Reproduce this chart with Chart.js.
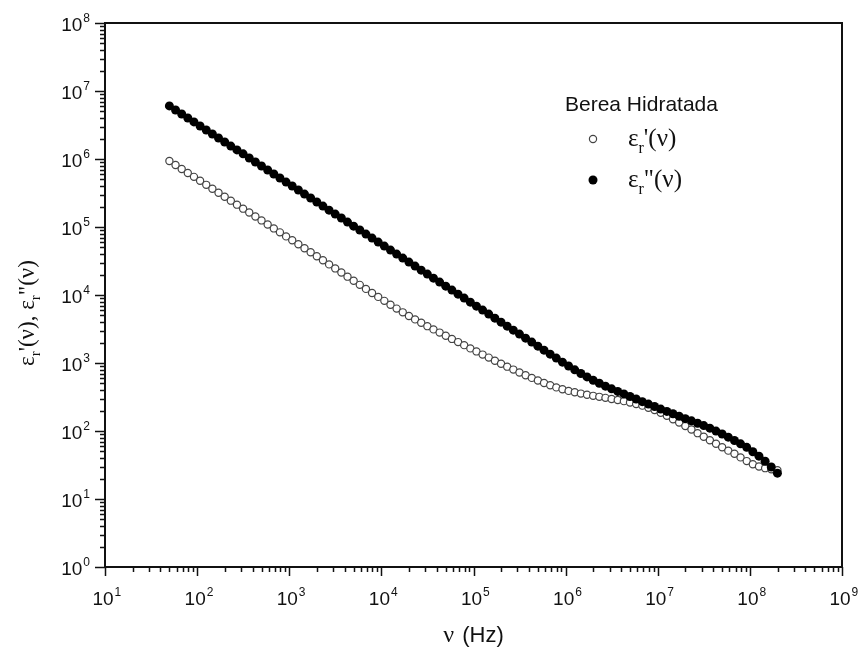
<!DOCTYPE html>
<html>
<head>
<meta charset="utf-8">
<script src="https://cdn.jsdelivr.net/npm/chart.js@4.4.1/dist/chart.umd.min.js"></script>
<style>
  html, body { margin: 0; padding: 0; background: #fff; }
  #wrap { width: 859px; height: 656px; }
</style>
</head>
<body>
<div id="wrap"><canvas id="chart" width="859" height="656"></canvas></div>
<script>
// frequency grid (Hz), 15 points per decade from 50 Hz to 200 MHz
const freqHz = [
  50, 58.3, 68.0, 79.2, 92.4, 107.7, 125.6, 146.4, 170.7, 199.1, 232.1, 270.6, 315.5, 367.8, 428.9,
  500, 583, 680, 792, 924, 1077, 1256, 1464, 1707, 1991, 2321, 2706, 3155, 3678, 4289,
  5000, 5830, 6800, 7920, 9240, 10770, 12560, 14640, 17070, 19910, 23210, 27060, 31550, 36780, 42890,
  5e4, 5.83e4, 6.8e4, 7.92e4, 9.24e4, 1.077e5, 1.256e5, 1.464e5, 1.707e5, 1.991e5, 2.321e5, 2.706e5, 3.155e5, 3.678e5, 4.289e5,
  5e5, 5.83e5, 6.8e5, 7.92e5, 9.24e5, 1.077e6, 1.256e6, 1.464e6, 1.707e6, 1.991e6, 2.321e6, 2.706e6, 3.155e6, 3.678e6, 4.289e6,
  5e6, 5.83e6, 6.8e6, 7.92e6, 9.24e6, 1.077e7, 1.256e7, 1.464e7, 1.707e7, 1.991e7, 2.321e7, 2.706e7, 3.155e7, 3.678e7, 4.289e7,
  5e7, 5.83e7, 6.8e7, 7.92e7, 9.24e7, 1.077e8, 1.256e8, 1.464e8, 1.707e8, 1.991e8
];

// eps_r'(nu), open circles
const epsReal = [
  933000, 817000, 713000, 624000, 546000, 478000, 417000, 365000, 319000, 279000, 244000, 213000, 186000, 163000, 143000,
  125000, 109000, 95300, 83400, 72800, 63700, 55700, 48600, 42600, 37200, 32400, 28200, 24600, 21400, 18600,
  16200, 14100, 12300, 10700, 9380, 8200, 7190, 6310, 5560, 4920, 4380, 3900, 3480, 3120, 2800,
  2510, 2260, 2030, 1830, 1640, 1480, 1330, 1200, 1080, 977, 883, 800, 726, 662, 604,
  553, 508, 470, 438, 411, 389, 371, 355, 341, 329, 318, 307, 296, 286, 275,
  263, 250, 236, 220, 204, 185, 167, 149, 133, 118, 105, 92.9, 82.4, 73.1, 64.9,
  57.7, 51.4, 46.2, 40.9, 36.1, 32.5, 30.1, 28.4, 27.4, 26.5
];

// eps_r''(nu), filled circles
const epsImag = [
  6030000, 5260000, 4590000, 4010000, 3510000, 3060000, 2670000, 2330000, 2040000, 1780000, 1550000, 1360000, 1190000, 1035000, 904000,
  789000, 689000, 601000, 525000, 458000, 401000, 350000, 305000, 267000, 233000, 203000, 177000, 155000, 135500, 118000,
  103000, 90200, 78700, 68700, 60000, 52400, 45800, 40000, 34900, 30500, 26600, 23200, 20300, 17700, 15500,
  13500, 11800, 10300, 9000, 7850, 6860, 6000, 5240, 4570, 3990, 3480, 3040, 2660, 2320, 2030,
  1770, 1545, 1350, 1180, 1030, 902, 793, 701, 624, 558, 504, 457, 417, 382, 351,
  322, 296, 270, 249, 229, 210, 194, 179, 165, 152, 141, 130, 120, 110, 99.8,
  90.2, 81.1, 72.6, 64.7, 57.5, 49.5, 42.7, 35.9, 29.5, 24.0
];

const xTickExps = [1, 2, 3, 4, 5, 6, 7, 8, 9];
const yTickExps = [0, 1, 2, 3, 4, 5, 6, 7, 8];
const minorSteps = [2, 3, 4, 5, 6, 7, 8, 9];
const legendTitle = 'Berea Hidratada';

const SANS = '"Liberation Sans", Arial, sans-serif';
const SERIF = '"Liberation Serif", "Times New Roman", serif';
const INK = '#111';

function logTicks(exps) {
  const ticks = [];
  exps.forEach((e, i) => {
    ticks.push({ value: Math.pow(10, e), major: true, exp: e });
    if (i < exps.length - 1) {
      minorSteps.forEach((m) => ticks.push({ value: m * Math.pow(10, e), major: false }));
    }
  });
  return ticks;
}

// draws a row of text runs, each {t, font, dy}; returns total width
function drawRuns(ctx, runs, x, y, measureOnly) {
  let cx = x;
  runs.forEach((r) => {
    ctx.font = r.font;
    if (!measureOnly) ctx.fillText(r.t, cx, y + (r.dy || 0));
    cx += ctx.measureText(r.t).width + (r.gap || 0);
  });
  return cx - x;
}

function powRuns(exp) {
  return [
    { t: '10', font: `19px ${SANS}`, gap: 1 },
    { t: String(exp), font: `12px ${SANS}`, dy: -9 },
  ];
}

function epsRuns(primes, size) {
  const sub = Math.round(size * 0.65);
  return [
    { t: 'ε', font: `${size}px ${SERIF}` },
    { t: 'r', font: `${sub}px ${SERIF}`, dy: Math.round(size * 0.28) },
    { t: primes + '(ν)', font: `${size}px ${SERIF}` },
  ];
}

const framePlugin = {
  id: 'frame',
  afterDraw(chart) {
    const { ctx, chartArea: a, scales } = chart;
    ctx.save();
    ctx.strokeStyle = INK;
    ctx.fillStyle = INK;

    // frame
    ctx.lineWidth = 2;
    ctx.strokeRect(a.left, a.top, a.right - a.left, a.bottom - a.top);

    // tick marks (outside, bottom and left only)
    ctx.lineWidth = 1.5;
    ctx.beginPath();
    scales.x.ticks.forEach((t) => {
      const px = Math.round(scales.x.getPixelForValue(t.value)) + 0.5;
      ctx.moveTo(px, a.bottom);
      ctx.lineTo(px, a.bottom + (t.major ? 9 : 5));
    });
    scales.y.ticks.forEach((t) => {
      const py = Math.round(scales.y.getPixelForValue(t.value)) + 0.5;
      ctx.moveTo(a.left, py);
      ctx.lineTo(a.left - (t.major ? 10 : 5), py);
    });
    ctx.stroke();

    // tick labels 10^n
    ctx.textBaseline = 'alphabetic';
    ctx.textAlign = 'left';
    scales.x.ticks.filter((t) => t.major).forEach((t) => {
      const px = scales.x.getPixelForValue(t.value);
      ctx.font = `19px ${SANS}`;
      const w = ctx.measureText('10').width;
      drawRuns(ctx, powRuns(t.exp), px - w / 2 - 2, a.bottom + 38);
    });
    scales.y.ticks.filter((t) => t.major).forEach((t) => {
      const py = scales.y.getPixelForValue(t.value);
      const runs = powRuns(t.exp);
      const w = drawRuns(ctx, runs, 0, 0, true);
      drawRuns(ctx, runs, a.left - 15 - w, py + 8);
    });

    // x title: nu (Hz)
    const xr = [
      { t: 'ν', font: `24px ${SERIF}`, gap: 2 },
      { t: ' (Hz)', font: `22px ${SANS}` },
    ];
    const xw = drawRuns(ctx, xr, 0, 0, true);
    drawRuns(ctx, xr, (a.left + a.right) / 2 - xw / 2, 642);

    // y title, rotated
    const yr = epsRuns("'", 23).concat([{ t: ', ', font: `23px ${SERIF}` }], epsRuns('"', 23));
    const yw = drawRuns(ctx, yr, 0, 0, true);
    ctx.translate(34, (a.top + a.bottom) / 2 + 18);
    ctx.rotate(-Math.PI / 2);
    drawRuns(ctx, yr, -yw / 2, 0);
    ctx.restore();

    // legend
    ctx.save();
    ctx.fillStyle = INK;
    ctx.font = `21px ${SANS}`;
    ctx.fillText(legendTitle, 565, 111);
    const entries = [
      { ds: chart.data.datasets[0], y: 139, primes: "'" },
      { ds: chart.data.datasets[1], y: 180, primes: '"' },
    ];
    entries.forEach((e) => {
      ctx.beginPath();
      ctx.arc(593, e.y, e.ds.pointRadius, 0, Math.PI * 2);
      ctx.fillStyle = e.ds.pointBackgroundColor;
      ctx.fill();
      if (e.ds.pointBorderWidth) {
        ctx.lineWidth = e.ds.pointBorderWidth;
        ctx.strokeStyle = e.ds.pointBorderColor;
        ctx.stroke();
      }
      ctx.fillStyle = INK;
      drawRuns(ctx, epsRuns(e.primes, 25), 628, e.y + 7);
    });
    ctx.restore();
  },
};

new Chart(document.getElementById('chart'), {
  type: 'scatter',
  data: {
    datasets: [
      {
        label: "εr'(ν)",
        data: freqHz.map((f, i) => ({ x: f, y: epsReal[i] })),
        pointRadius: 3.6,
        pointBorderWidth: 1.2,
        pointBorderColor: '#444',
        pointBackgroundColor: '#fff',
        order: 1,
      },
      {
        label: 'εr"(ν)',
        data: freqHz.map((f, i) => ({ x: f, y: epsImag[i] })),
        pointRadius: 4.5,
        pointBorderWidth: 0,
        pointBorderColor: '#000',
        pointBackgroundColor: '#000',
        order: 0,
      },
    ],
  },
  options: {
    responsive: false,
    animation: false,
    layout: { padding: { left: 105, right: 17, top: 23, bottom: 89 } },
    plugins: { legend: { display: false }, tooltip: { enabled: false } },
    scales: {
      x: {
        type: 'logarithmic',
        min: 10,
        max: 1e9,
        afterBuildTicks: (s) => { s.ticks = logTicks(xTickExps); },
        afterFit: (s) => { s.height = 0; },
        ticks: { display: false },
        grid: { display: false, drawTicks: false },
        border: { display: false },
      },
      y: {
        type: 'logarithmic',
        min: 1,
        max: 1e8,
        afterBuildTicks: (s) => { s.ticks = logTicks(yTickExps); },
        afterFit: (s) => { s.width = 0; },
        ticks: { display: false },
        grid: { display: false, drawTicks: false },
        border: { display: false },
      },
    },
  },
  plugins: [framePlugin],
});
</script>
</body>
</html>
